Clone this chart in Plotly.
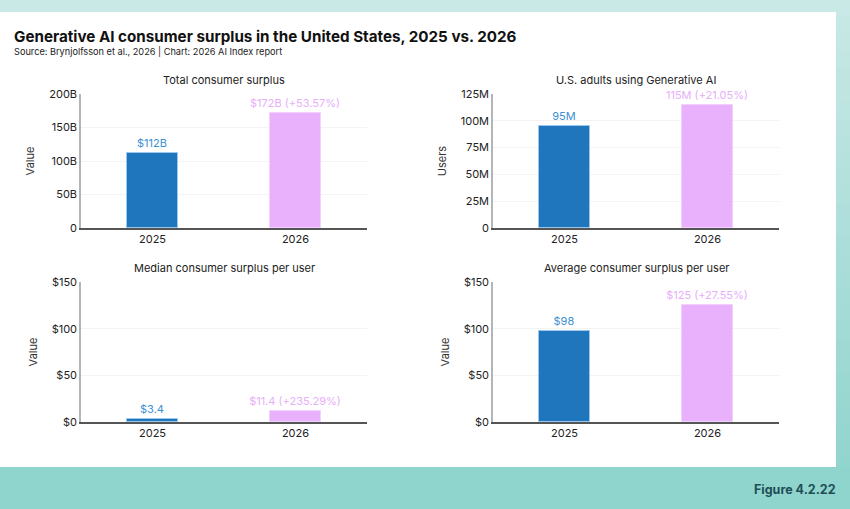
import plotly.graph_objects as go

W, H = 850, 509

years = ["2025", "2026"]
total_surplus_b = [112, 172]        # billions USD
adults_m = [95, 115]                # millions
median_surplus = [3.4, 11.4]        # USD per user
average_surplus = [98, 125]         # USD per user

panel_titles = ["Total consumer surplus", "U.S. adults using Generative AI",
                "Median consumer surplus per user", "Average consumer surplus per user"]
y_titles = ["Value", "Users", "Value", "Value"]

tick_vals_total = [0, 50, 100, 150, 200]
tick_text_total = ["0", "50B", "100B", "150B", "200B"]
tick_vals_users = [0, 25, 50, 75, 100, 125]
tick_text_users = ["0", "25M", "50M", "75M", "100M", "125M"]
tick_vals_dollar = [0, 50, 100, 150]
tick_text_dollar = ["$0", "$50", "$100", "$150"]

BLUE = "#1f76bd"
PINK = "#e9b1fb"
BLUE_TXT = "#3b8fd3"
PINK_TXT = "#e8aef9"
FONT = "Inter, Lato, sans-serif"


def pct(a, b):
    return (b / a - 1) * 100


labels = [
    [f"${total_surplus_b[0]}B", f"${total_surplus_b[1]}B (+{pct(*total_surplus_b):.2f}%)"],
    [f"{adults_m[0]}M", f"{adults_m[1]}M (+{pct(*adults_m):.2f}%)"],
    [f"${median_surplus[0]}", f"${median_surplus[1]} (+{pct(*median_surplus):.2f}%)"],
    [f"${average_surplus[0]}", f"${average_surplus[1]} (+{pct(*average_surplus):.2f}%)"],
]
series = [total_surplus_b, adults_m, median_surplus, average_surplus]
ranges = [[0, 200], [0, 125], [0, 150], [0, 150]]
ticks = [(tick_vals_total, tick_text_total), (tick_vals_users, tick_text_users),
         (tick_vals_dollar, tick_text_dollar), (tick_vals_dollar, tick_text_dollar)]

# pixel boxes (left, right, top, bottom)
boxes = [(81, 367, 94, 228), (493, 779, 94, 228), (81, 367, 282, 422), (493, 779, 282, 422)]


def px_x(x):
    return x / W


def px_y(y):
    return 1 - y / H


fig = go.Figure()
shapes = []
annotations = []

# teal gradient background
top_c = (200, 233, 229)
bot_c = (143, 211, 205)
n = 30
for i in range(n):
    t = i / (n - 1)
    c = tuple(int(top_c[k] + (bot_c[k] - top_c[k]) * t) for k in range(3))
    shapes.append(dict(type="rect", xref="paper", yref="paper", layer="below",
                       x0=0, x1=1, y0=1 - (i + 1) / n - 0.002, y1=1 - i / n,
                       fillcolor=f"rgb{c}", line=dict(width=0)))
shapes.append(dict(type="rect", xref="paper", yref="paper", layer="below",
                   x0=0, x1=1, y0=0, y1=px_y(467), fillcolor="#8fd4cd", line=dict(width=0)))
# white card
shapes.append(dict(type="rect", xref="paper", yref="paper", layer="below",
                   x0=0, x1=px_x(836), y0=px_y(467), y1=px_y(12),
                   fillcolor="white", line=dict(width=0)))

for i in range(4):
    ax = "" if i == 0 else str(i + 1)
    xa = "x" + ax
    ya = "y" + ax
    l, r, t, b = boxes[i]
    vals = series[i]
    fig.add_trace(go.Bar(
        x=years, y=vals, xaxis=xa, yaxis=ya, width=0.35,
        marker=dict(color=[BLUE, PINK], line=dict(color=["#9cc7ec", "#f2d2fc"], width=1)),
        text=labels[i], textposition="outside", cliponaxis=False, constraintext="none",
        textfont=dict(color=[BLUE_TXT, PINK_TXT], size=11, family=FONT),
        showlegend=False, hoverinfo="skip"))
    tv, tt = ticks[i]
    fig.layout["xaxis" + ax] = dict(
        domain=[px_x(l), px_x(r)], anchor=ya, type="category", automargin=False,
        range=[-0.5, 1.5], showgrid=False, showline=True, linecolor="#555555",
        linewidth=1.5, ticks="", tickfont=dict(size=11, color="#222222", family=FONT),
        fixedrange=True)
    fig.layout["yaxis" + ax] = dict(
        domain=[px_y(b), px_y(t)], anchor=xa, range=ranges[i], automargin=False,
        tickvals=tv, ticktext=tt, showgrid=True, gridcolor="#f3f3f3", gridwidth=1,
        zeroline=False, showline=True, linecolor="#b5b5b5", linewidth=1.5,
        ticks="", tickfont=dict(size=11, color="#222222", family=FONT),
        title=dict(text=y_titles[i], font=dict(size=11, color="#333333", family=FONT),
                   standoff=12),
        fixedrange=True)
    annotations.append(dict(text=panel_titles[i], xref="paper", yref="paper",
                            x=px_x((l + r) / 2), y=px_y(t - 14), xanchor="center",
                            yanchor="middle", showarrow=False,
                            font=dict(size=11, color="#222222", family=FONT)))

annotations.append(dict(text="<b>Generative AI consumer surplus in the United States, 2025 vs. 2026</b>",
                        xref="paper", yref="paper", x=px_x(12), y=px_y(36), xanchor="left",
                        yanchor="middle", showarrow=False,
                        font=dict(size=15.2, color="#111111", family=FONT)))
annotations.append(dict(text="Source: Brynjolfsson et al., 2026 | Chart: 2026 AI Index report",
                        xref="paper", yref="paper", x=px_x(12), y=px_y(52), xanchor="left",
                        yanchor="middle", showarrow=False,
                        font=dict(size=9.2, color="#222222", family=FONT)))
annotations.append(dict(text="<b>Figure 4.2.22</b>", xref="paper", yref="paper",
                        x=px_x(838), y=px_y(489), xanchor="right", yanchor="middle",
                        showarrow=False, font=dict(size=12.5, color="#1f4f55", family=FONT)))

fig.update_layout(width=W, height=H,
                  margin=dict(l=0, r=0, t=0, b=0, pad=0, autoexpand=False),
                  paper_bgcolor="#8fd4cd", plot_bgcolor="rgba(0,0,0,0)",
                  shapes=shapes, annotations=annotations, bargap=0,
                  font=dict(family=FONT))

fig.write_html("out.html", config={"displayModeBar": False})
